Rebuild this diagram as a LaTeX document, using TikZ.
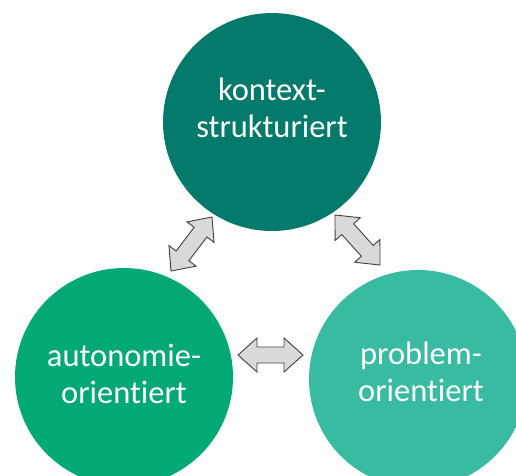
\documentclass[tikz,border=0pt]{standalone}
\usepackage{fontspec}
\setmainfont[Ligatures={NoCommon,NoRequired,NoContextual}]{Carlito}
\usetikzlibrary{calc}
\definecolor{cTop}{RGB}{3,122,107}
\definecolor{cLeft}{RGB}{2,168,117}
\definecolor{cRight}{RGB}{56,187,160}
\definecolor{arrFill}{RGB}{217,217,217}
\definecolor{arrLine}{RGB}{64,64,64}
\tikzset{
  bigcircle/.style={circle, draw=none, minimum size=218, inner sep=0pt},
  circletext/.style={text=white, align=center, inner sep=0pt,
    font=\fontsize{32.5}{37}\selectfont},
  blockarrow/.style={draw=arrLine, fill=arrFill, line width=0.9pt, line join=miter}
}
\newcommand{\dblarrow}[3]{%
  \coordinate (#3-a) at ($(#1)!19pt!(#2)$);
  \coordinate (#3-b) at ($(#2)!19pt!(#1)$);
  \draw[blockarrow] (#1) -- ($(#3-a)!17pt!90:(#2)$) -- ($(#3-a)!8pt!90:(#2)$)
    -- ($(#3-b)!8pt!-90:(#1)$) -- ($(#3-b)!17pt!-90:(#1)$) -- (#2)
    -- ($(#3-b)!17pt!90:(#1)$) -- ($(#3-b)!8pt!90:(#1)$)
    -- ($(#3-a)!8pt!-90:(#2)$) -- ($(#3-a)!17pt!-90:(#2)$) -- cycle;
}
\begin{document}
\begin{tikzpicture}[x=1pt,y=-1pt]
\useasboundingbox (0,0) rectangle (516,475);
\begin{scope}
\clip (0,0) rectangle (516,475);
\node[bigcircle, fill=cTop] (top) at (272,122) {};
\node[bigcircle, fill=cLeft] (left) at (124,377) {};
\node[bigcircle, fill=cRight] (right) at (418,379) {};
\end{scope}
\node[circletext] (toptext) at (272,108) {kontext-\\strukturiert};
\node[circletext] (lefttext) at (124,374) {autonomie-\\orientiert};
\node[circletext] (righttext) at (421,372) {problem-\\orientiert};
\coordinate (ul1) at (212,217);
\coordinate (ul2) at (171,271);
\coordinate (ur1) at (335,215);
\coordinate (ur2) at (380,265);
\coordinate (h1) at (238,355);
\coordinate (h2) at (303,355);
\dblarrow{ul1}{ul2}{ula}
\dblarrow{ur1}{ur2}{ura}
\dblarrow{h1}{h2}{ha}
\end{tikzpicture}
\end{document}
